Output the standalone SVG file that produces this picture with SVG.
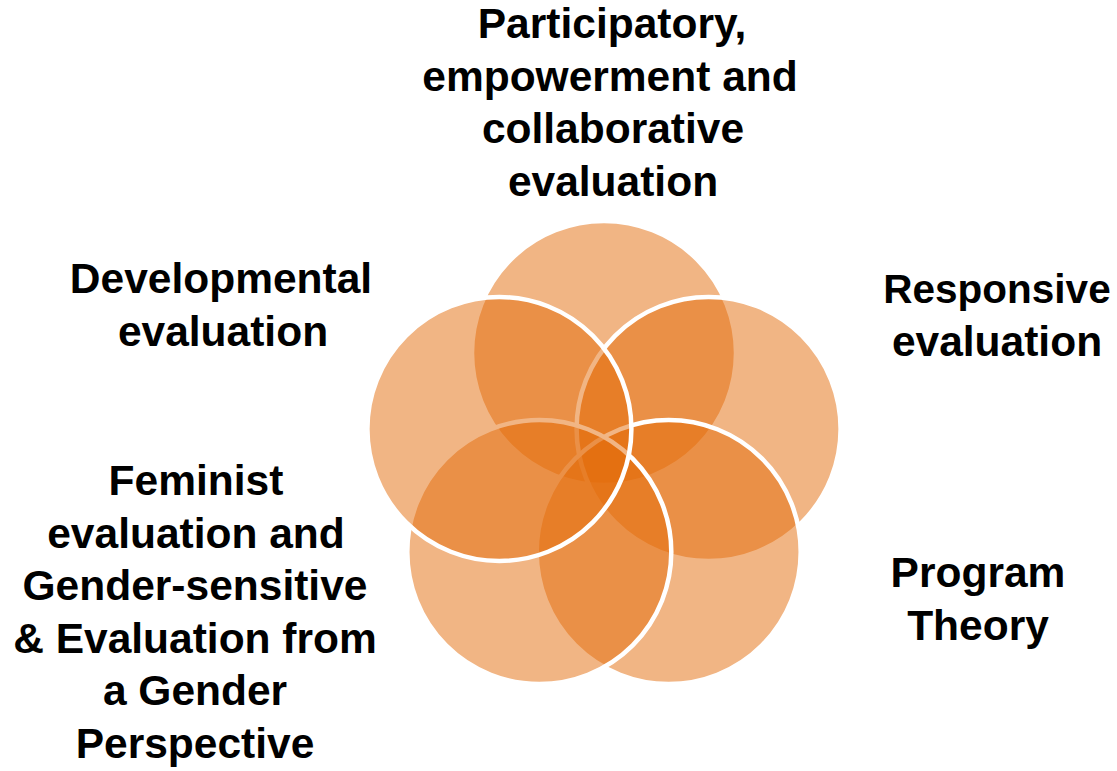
<svg xmlns="http://www.w3.org/2000/svg" width="1117" height="771" viewBox="0 0 1117 771">
  <style>
    .petal { fill: #E46C0A; fill-opacity: 0.5; stroke: #FFFFFF; stroke-width: 4.5; }
    .label { font-family: "Liberation Sans", Arial, sans-serif; font-weight: bold; font-size: 42.5px; fill: #000000; text-anchor: middle; }
    .snug { font-size: 40.5px; }
  </style>
  <rect width="1117" height="771" fill="#FFFFFF"/>

  <!-- five overlapping circles, drawn clockwise from the top -->
  <g id="participatory">
    <circle class="petal" cx="604" cy="353" r="132"/>
    <text class="label" x="612" y="38">Participatory,</text>
    <text class="label" x="610" y="90.5">empowerment and</text>
    <text class="label" x="613" y="143">collaborative</text>
    <text class="label" x="613" y="195.5">evaluation</text>
  </g>

  <g id="responsive">
    <circle class="petal" cx="708.6" cy="429" r="132"/>
    <text class="label snug" x="997" y="303">Responsive</text>
    <text class="label" x="997" y="355.5">evaluation</text>
  </g>

  <g id="program-theory">
    <circle class="petal" cx="668.7" cy="552" r="132"/>
    <text class="label" x="978" y="587">Program</text>
    <text class="label" x="978" y="639.5">Theory</text>
  </g>

  <g id="feminist">
    <circle class="petal" cx="539.3" cy="552" r="132"/>
    <text class="label" x="196" y="495">Feminist</text>
    <text class="label" x="196" y="547.5">evaluation and</text>
    <text class="label" x="195" y="600">Gender-sensitive</text>
    <text class="label" x="195" y="652.5">&amp; Evaluation from</text>
    <text class="label" x="195" y="705">a Gender</text>
    <text class="label" x="195" y="757.5">Perspective</text>
  </g>

  <g id="developmental">
    <circle class="petal" cx="499.4" cy="429" r="132"/>
    <text class="label" x="221" y="293">Developmental</text>
    <text class="label" x="223" y="345.5">evaluation</text>
  </g>

  <!-- no connectors in this diagram -->
  <g id="connectors"/>
</svg>
